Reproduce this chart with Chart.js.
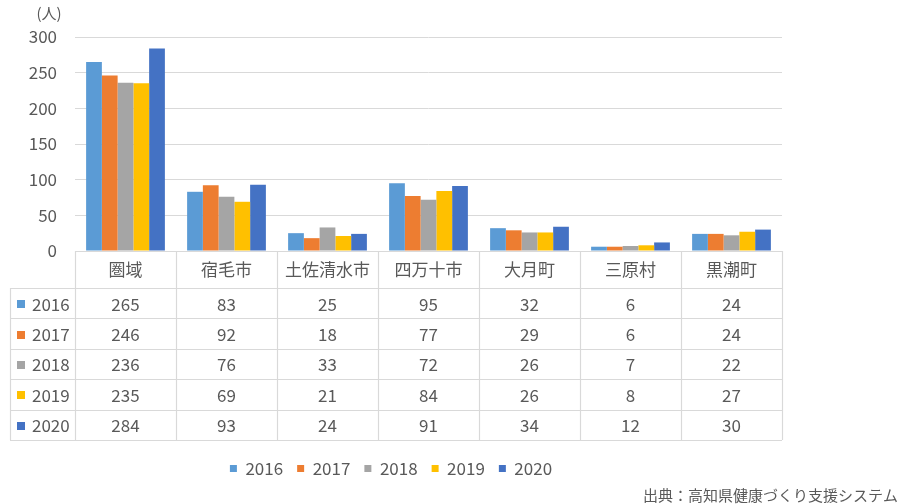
<!DOCTYPE html>
<html>
<head>
<meta charset="utf-8">
<script src="https://cdn.jsdelivr.net/npm/chart.js@4"></script>
<style>
  body { margin: 0; background: #fff; }
  canvas { display: block; }
</style>
</head>
<body>
<canvas id="chart" width="902" height="504"></canvas>
<script>
// 地域ごとのデータ
const areas = ['圏域', '宿毛市', '土佐清水市', '四万十市', '大月町', '三原村', '黒潮町'];
const years = ['2016', '2017', '2018', '2019', '2020'];
const v2016 = [265, 83, 25, 95, 32, 6, 24];
const v2017 = [246, 92, 18, 77, 29, 6, 24];
const v2018 = [236, 76, 33, 72, 26, 7, 22];
const v2019 = [235, 69, 21, 84, 26, 8, 27];
const v2020 = [284, 93, 24, 91, 34, 12, 30];
const yTicks = [0, 50, 100, 150, 200, 250, 300];
const colors = ['#5B9BD5', '#ED7D31', '#A5A5A5', '#FFC000', '#4472C4'];
const unitLabel = '(人)';
const sourceLabel = '出典：高知県健康づくり支援システム';

const series = [v2016, v2017, v2018, v2019, v2020];
const FONT = "'Noto Sans CJK JP', 'Noto Sans', sans-serif";
const GRAY = '#595959';
const LINE = '#d9d9d9';

Chart.defaults.font.family = FONT;
Chart.defaults.color = GRAY;

// 表を描くプラグイン
const tablePlugin = {
    id: 'dataTable',
    afterDraw(chart) {
        const { ctx, chartArea, scales: { x } } = chart;
        const half = (x.getPixelForValue(1) - x.getPixelForValue(0)) / 2;
        const top = chartArea.bottom;
        const headBottom = top + 37;
        const rowH = 30.4;
        const bottom = headBottom + rowH * years.length;
        const tableLeft = 10;

        ctx.save();
        ctx.strokeStyle = LINE;
        ctx.lineWidth = 1.2;

        // 縦線
        for (let i = 0; i <= areas.length; i++) {
            const px = i < areas.length ? x.getPixelForValue(i) - half : x.getPixelForValue(areas.length - 1) + half;
            ctx.beginPath();
            ctx.moveTo(Math.round(px) + 0.5, top);
            ctx.lineTo(Math.round(px) + 0.5, bottom);
            ctx.stroke();
        }
        ctx.beginPath();
        ctx.moveTo(tableLeft + 0.5, headBottom);
        ctx.lineTo(tableLeft + 0.5, bottom);
        ctx.stroke();

        // 横線
        for (let r = 0; r <= years.length; r++) {
            const py = Math.round(headBottom + rowH * r) + 0.5;
            ctx.beginPath();
            ctx.moveTo(tableLeft, py);
            ctx.lineTo(chartArea.right, py);
            ctx.stroke();
        }

        ctx.fillStyle = GRAY;
        ctx.textAlign = 'center';
        ctx.textBaseline = 'middle';

        // 見出し
        ctx.font = '17px ' + FONT;
        areas.forEach((a, i) => ctx.fillText(a, x.getPixelForValue(i), top + 19));

        // 値
        ctx.font = '17px ' + FONT;
        series.forEach((vals, r) => {
            const cy = headBottom + rowH * r + rowH / 2 + 1;
            vals.forEach((v, i) => ctx.fillText(String(v), x.getPixelForValue(i), cy));
            ctx.fillStyle = colors[r];
            ctx.fillRect(17, Math.round(cy - 4), 8, 8);
            ctx.fillStyle = GRAY;
            ctx.textAlign = 'left';
            ctx.fillText(years[r], 32, cy);
            ctx.textAlign = 'center';
        });

        // 単位
        ctx.font = '15px ' + FONT;
        ctx.fillText(unitLabel, 49, 13);

        // 出典
        ctx.textAlign = 'right';
        ctx.fillText(sourceLabel, 898, 495);
        ctx.restore();
    }
};

const chart = new Chart(document.getElementById('chart').getContext('2d'), {
    type: 'bar',
    data: {
        labels: areas,
        datasets: years.map((y, i) => ({
            label: y,
            data: series[i],
            backgroundColor: colors[i],
            borderWidth: 0,
            categoryPercentage: 0.78,
            barPercentage: 1
        }))
    },
    options: {
        responsive: false,
        animation: false,
        layout: { padding: { top: 37, left: 0, right: 120, bottom: 17 } },
        plugins: {
            legend: {
                position: 'bottom',
                labels: { boxWidth: 7, boxHeight: 7, padding: 14, font: { size: 17 }, color: GRAY }
            },
            tooltip: { enabled: false }
        },
        scales: {
            x: {
                grid: { display: false },
                border: { display: true, color: LINE },
                ticks: { display: false },
                afterFit: (scale) => { scale.height = 195; }
            },
            y: {
                min: yTicks[0],
                max: yTicks[yTicks.length - 1],
                afterBuildTicks: (scale) => { scale.ticks = yTicks.map(v => ({ value: v })); },
                grid: { color: LINE, drawTicks: false },
                border: { display: false },
                ticks: { padding: 18, font: { size: 17 }, color: GRAY },
                afterFit: (scale) => { scale.width = 75; }
            }
        }
    },
    plugins: [tablePlugin]
});
</script>
</body>
</html>
